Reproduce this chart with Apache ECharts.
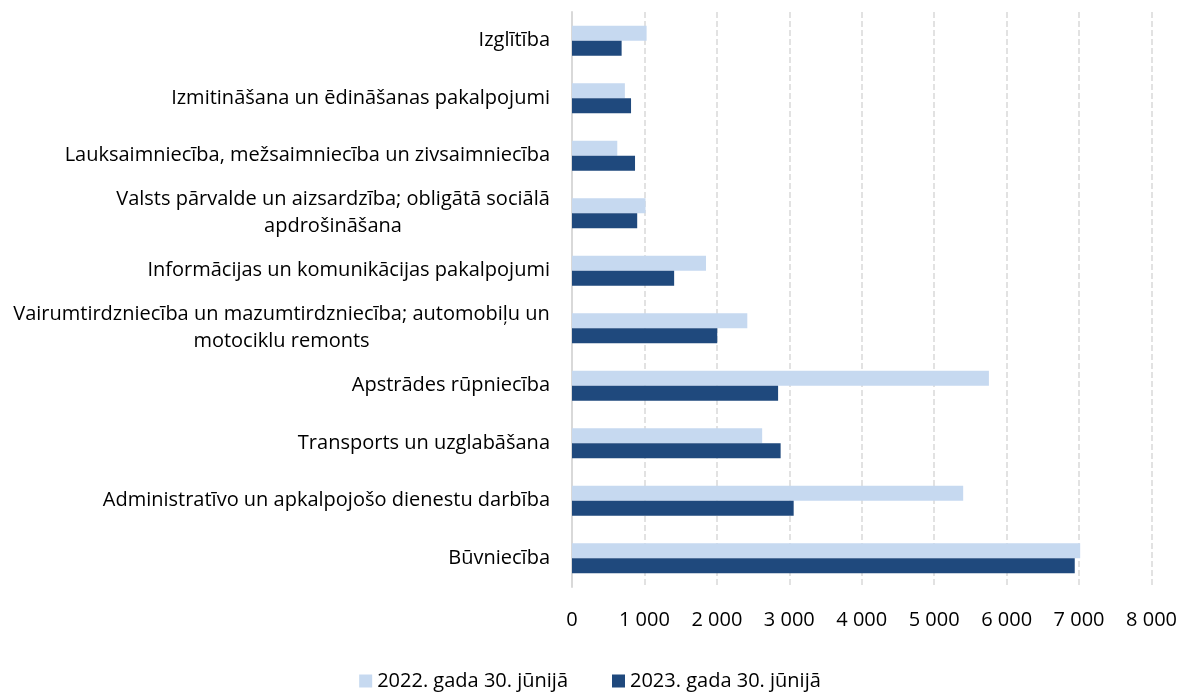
<!DOCTYPE html>
<html>
    <head>
        <meta charset="utf-8">
        <title></title>
        <script src="https://cdn.jsdelivr.net/npm/echarts@6/dist/echarts.min.js"></script>
        <style>
            body { margin: 0; background: #fff; }
        </style>
    </head>
    <body>
    <div id="main" style="width: 1180px;height:695px;"></div>
    <script type="text/javascript">
        // nozares (no augšas uz leju)
        var categories = [
            'Izglītība',
            'Izmitināšana un ēdināšanas pakalpojumi',
            'Lauksaimniecība, mežsaimniecība un zivsaimniecība',
            'Valsts pārvalde un aizsardzība; obligātā sociālā\napdrošināšana',
            'Informācijas un komunikācijas pakalpojumi',
            'Vairumtirdzniecība un mazumtirdzniecība; automobiļu un\nmotociklu remonts',
            'Apstrādes rūpniecība',
            'Transports un uzglabāšana',
            'Administratīvo un apkalpojošo dienestu darbība',
            'Būvniecība'
        ]
        var seriesNames = ['2022. gada 30. jūnijā', '2023. gada 30. jūnijā']
        var values2022 = [1030, 730, 625, 1015, 1850, 2420, 5755, 2625, 5400, 7015]
        var values2023 = [685, 815, 870, 900, 1410, 2005, 2845, 2880, 3060, 6940]

        var fontSize = 20
        var labelFont = fontSize + 'px "Open Sans", sans-serif'

        // platums garākajai rindai, lai vairākrindu nosaukumi būtu centrēti
        var canvas = document.createElement('canvas')
        var ctx = canvas.getContext('2d')
        ctx.font = labelFont
        var rich = {}
        var labelKey = {}
        categories.forEach(function(name, i){
            if (name.indexOf('\n') < 0) return
            var w = 0
            name.split('\n').forEach(function(line){
                w = Math.max(w, Math.ceil(ctx.measureText(line).width))
            })
            rich['c' + i] = { width: w, align: 'center', fontSize: fontSize, lineHeight: 27, color: '#000' }
            labelKey[name] = 'c' + i
        })

        var fmt = function(v){
            return String(v).replace(/\B(?=(\d{3})+(?!\d))/g, ' ')
        }

        var myChart = echarts.init(document.getElementById('main'))
        var option = {
            animation: false,
            textStyle: { fontFamily: '"Open Sans", sans-serif' },
            legend: {
                data: seriesNames,
                bottom: -1,
                left: 'center',
                itemWidth: 13,
                itemHeight: 13,
                itemGap: 44,
                icon: 'rect',
                textStyle: { fontSize: fontSize, color: '#000' }
            },
            grid: {
                left: 572,
                right: 27,
                top: 12,
                bottom: 108,
                containLabel: false
            },
            xAxis: {
                type: 'value',
                min: 0,
                max: 8000,
                interval: 1000,
                axisLine: { show: false },
                axisTick: { show: false },
                splitLine: {
                    lineStyle: { color: '#d9d9d9', width: 1.5, type: [6, 3] }
                },
                axisLabel: {
                    margin: 23,
                    fontSize: 20,
                    color: '#000',
                    formatter: fmt
                }
            },
            yAxis: {
                type: 'category',
                inverse: true,
                data: categories,
                axisTick: { show: false },
                axisLine: { lineStyle: { color: '#d9d9d9', width: 2 } },
                axisLabel: {
                    margin: 22,
                    fontSize: fontSize,
                    color: '#000',
                    lineHeight: 27,
                    rich: rich,
                    formatter: function(v){
                        var k = labelKey[v]
                        if (!k) return v
                        return v.split('\n').map(function(l){ return '{' + k + '|' + l + '}' }).join('\n')
                    }
                }
            },
            series: [{
                name: seriesNames[0],
                type: 'bar',
                data: values2022,
                barWidth: 15,
                barGap: '0%',
                itemStyle: { color: '#c6d9f0' }
            }, {
                name: seriesNames[1],
                type: 'bar',
                data: values2023,
                barWidth: 15,
                barGap: '0%',
                itemStyle: { color: '#1f497d' }
            }]
        }
        myChart.setOption(option)
    </script>
    </body>
</html>
